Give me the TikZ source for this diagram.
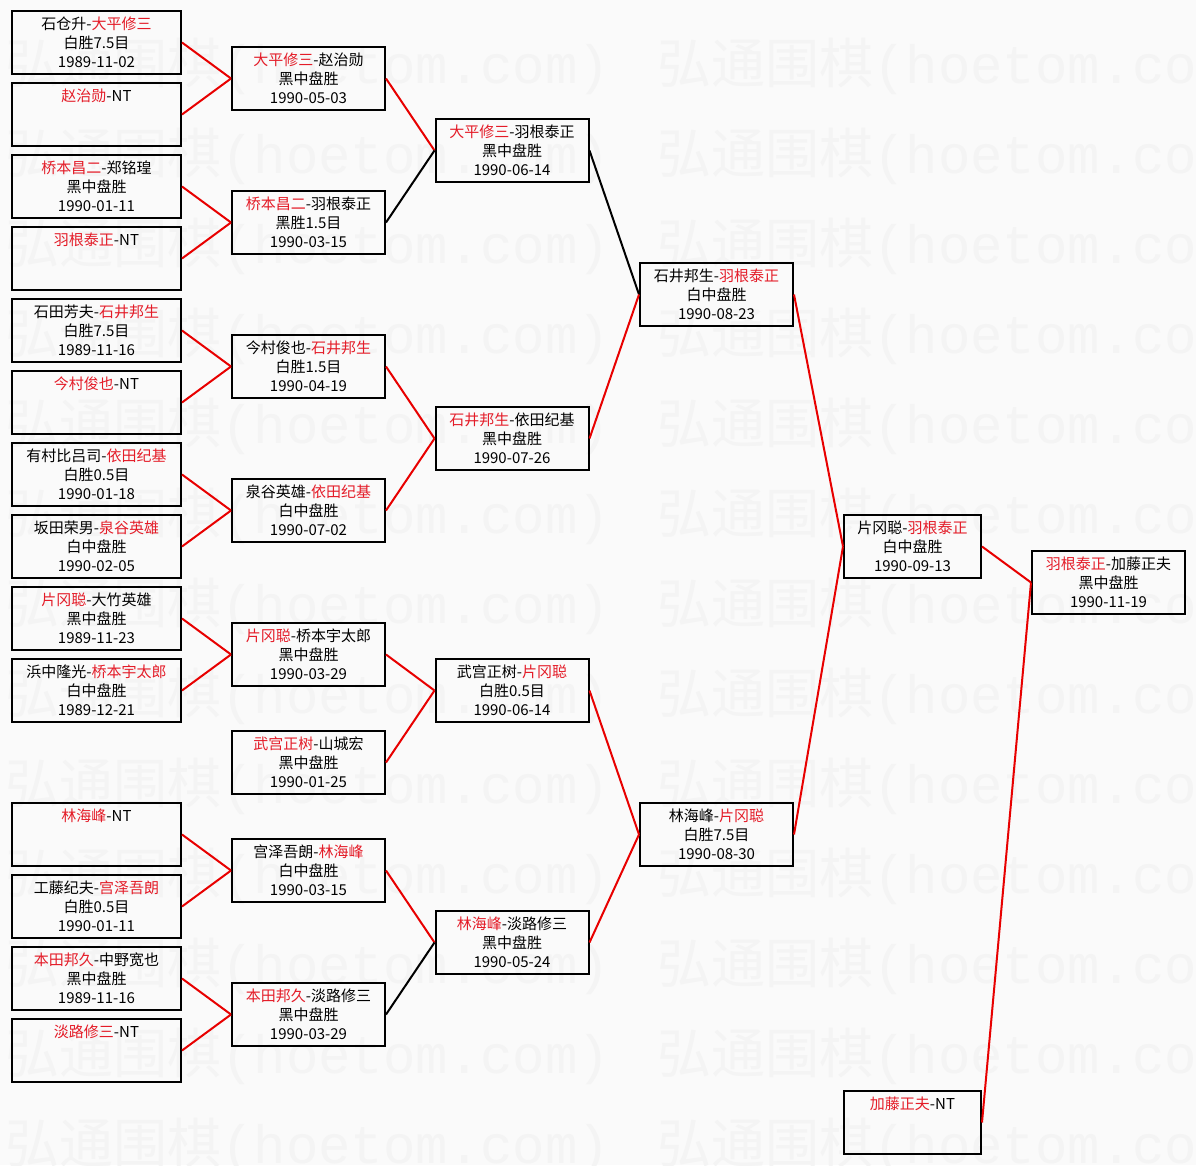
\documentclass[tikz,border=0pt]{standalone}
\usepackage{fontspec}
\setmainfont{Noto Sans CJK SC}
\newfontfamily\markfont{Liberation Mono}
\definecolor{winner}{RGB}{228,28,40}
\definecolor{winline}{RGB}{232,0,0}
\newcommand{\win}[1]{\textcolor{winner}{#1}}

\begin{document}
\begin{tikzpicture}[x=1pt, y=-1pt,
        game/.style={draw, line width=2pt, minimum width=153pt, minimum height=63pt,
            inner sep=0pt, align=center, font=\fontsize{15}{19}\selectfont},
        wide/.style={game, minimum width=169pt},
        narrow/.style={game, minimum width=137pt},
        link/.style={line width=2pt, winline},
        lose/.style={line width=2pt, black}]
        % Page and watermark
        \fill[black!2] (0,0) rectangle (1196,1165);
        \useasboundingbox (0,0) rectangle (1196,1165);
        \begin{scope}
            \clip (0,0) rectangle (1196,1165);
            \foreach \r in {0,...,12} {
                \foreach \x in {5,657} {
                    \node[anchor=west, inner sep=0pt, text=black!4.5, font=\fontsize{54}{54}\selectfont]
                        (mark\r-\x) at (\x, 66+90*\r) {弘通围棋\markfont(hoetom.com)};
                }
            }
        \end{scope}

        % First round
        \foreach \n/\row/\txt in {
            1/0/{石仓升-\win{大平修三}\\白胜7.5目\\1989-11-02},
            2/1/{\win{赵治勋}-NT\\~\\~},
            3/2/{\win{桥本昌二}-郑铭瑝\\黑中盘胜\\1990-01-11},
            4/3/{\win{羽根泰正}-NT\\~\\~},
            5/4/{石田芳夫-\win{石井邦生}\\白胜7.5目\\1989-11-16},
            6/5/{\win{今村俊也}-NT\\~\\~},
            7/6/{有村比吕司-\win{依田纪基}\\白胜0.5目\\1990-01-18},
            8/7/{坂田荣男-\win{泉谷英雄}\\白中盘胜\\1990-02-05},
            9/8/{\win{片冈聪}-大竹英雄\\黑中盘胜\\1989-11-23},
            10/9/{浜中隆光-\win{桥本宇太郎}\\白中盘胜\\1989-12-21},
            11/11/{\win{林海峰}-NT\\~\\~},
            12/12/{工藤纪夫-\win{宫泽吾朗}\\白胜0.5目\\1990-01-11},
            13/13/{\win{本田邦久}-中野宽也\\黑中盘胜\\1989-11-16},
            14/14/{\win{淡路修三}-NT\\~\\~}} {
            \node[wide] (a\n) at (96.5, 42.5+72*\row) {\txt};
        }

        % Second round
        \node[game] (b1) at (308.5, 78.5) {\win{大平修三}-赵治勋\\黑中盘胜\\1990-05-03};
        \node[game] (b2) at (308.5, 222.5) {\win{桥本昌二}-羽根泰正\\黑胜1.5目\\1990-03-15};
        \node[game] (b3) at (308.5, 366.5) {今村俊也-\win{石井邦生}\\白胜1.5目\\1990-04-19};
        \node[game] (b4) at (308.5, 510.5) {泉谷英雄-\win{依田纪基}\\白中盘胜\\1990-07-02};
        \node[game] (b5) at (308.5, 654.5) {\win{片冈聪}-桥本宇太郎\\黑中盘胜\\1990-03-29};
        \node[game] (b6) at (308.5, 762.5) {\win{武宫正树}-山城宏\\黑中盘胜\\1990-01-25};
        \node[game] (b7) at (308.5, 870.5) {宫泽吾朗-\win{林海峰}\\白中盘胜\\1990-03-15};
        \node[game] (b8) at (308.5, 1014.5) {\win{本田邦久}-淡路修三\\黑中盘胜\\1990-03-29};

        % Quarter finals
        \node[game] (c1) at (512, 150.5) {\win{大平修三}-羽根泰正\\黑中盘胜\\1990-06-14};
        \node[game] (c2) at (512, 438.5) {\win{石井邦生}-依田纪基\\黑中盘胜\\1990-07-26};
        \node[game] (c3) at (512, 690.5) {武宫正树-\win{片冈聪}\\白胜0.5目\\1990-06-14};
        \node[game] (c4) at (512, 942.5) {\win{林海峰}-淡路修三\\黑中盘胜\\1990-05-24};

        % Semi finals
        \node[game] (d1) at (716.5, 294.5) {石井邦生-\win{羽根泰正}\\白中盘胜\\1990-08-23};
        \node[game] (d2) at (716.5, 834.5) {林海峰-\win{片冈聪}\\白胜7.5目\\1990-08-30};

        % Challenger final and seed
        \node[narrow] (e1) at (912.5, 546.5) {片冈聪-\win{羽根泰正}\\白中盘胜\\1990-09-13};
        \node[narrow] (e2) at (912.5, 1122.5) {\win{加藤正夫}-NT\\~\\~};

        % Title match
        \node[game] (f1) at (1108.5, 582.5) {\win{羽根泰正}-加藤正夫\\黑中盘胜\\1990-11-19};

        % Connections
        \foreach \s/\t/\c in {a1/b1/link, a2/b1/link, a3/b2/link, a4/b2/link,
            a5/b3/link, a6/b3/link, a7/b4/link, a8/b4/link, a9/b5/link, a10/b5/link,
            a11/b7/link, a12/b7/link, a13/b8/link, a14/b8/link,
            b1/c1/link, b2/c1/lose, b3/c2/link, b4/c2/link,
            b5/c3/link, b6/c3/link, b7/c4/link, b8/c4/lose,
            c1/d1/lose, c2/d1/link, c3/d2/link, c4/d2/link,
            d1/e1/link, d2/e1/link, e1/f1/link, e2/f1/link} {
            \draw[\c] (\s.east) -- (\t.west);
        }
    \end{tikzpicture}
\end{document}
